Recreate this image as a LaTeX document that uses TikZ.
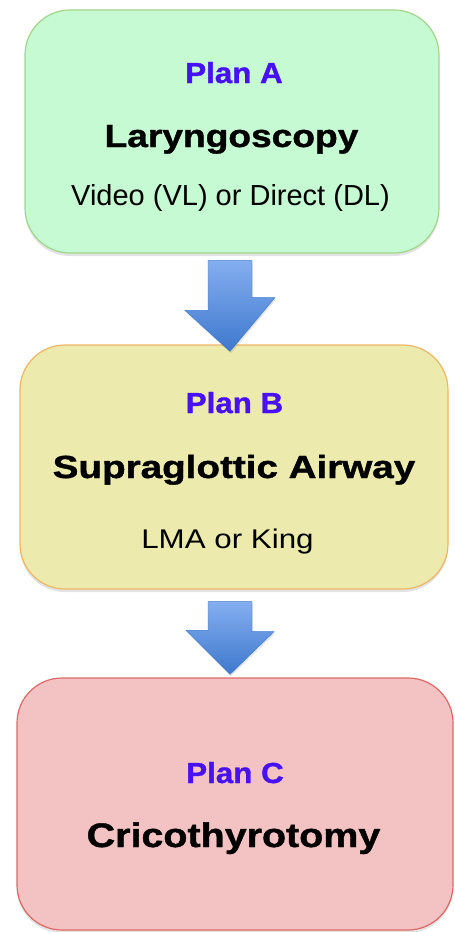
\documentclass[tikz,border=0pt]{standalone}
\usepackage{fontspec}
\setmainfont{Liberation Sans}
\newfontfamily\heavyfont{Liberation Sans Bold}[FakeBold=1.1]
\usetikzlibrary{calc,shadows}
\definecolor{planblue}{RGB}{72,16,245}
\definecolor{greenfill}{RGB}{198,250,210}
\definecolor{greenline}{RGB}{160,214,140}
\definecolor{yellowfill}{RGB}{236,234,172}
\definecolor{yellowline}{RGB}{240,182,104}
\definecolor{redfill}{RGB}{243,194,194}
\definecolor{redline}{RGB}{222,104,104}
\definecolor{arrowtop}{RGB}{132,174,240}
\definecolor{arrowbot}{RGB}{62,120,205}
\begin{document}
\begin{tikzpicture}[x=1pt,y=1pt]
\tikzset{
  planbox/.style={draw, line width=1.2pt, rounded corners=45pt, inner sep=0pt,
    drop shadow={opacity=0.22,shadow xshift=0pt,shadow yshift=-3pt}},
  plantag/.style={anchor=base, inner sep=0pt, text=planblue,
    font=\fontsize{29}{30}\heavyfont, xscale=1.08},
  plantitle/.style={anchor=base, inner sep=0pt,
    font=\fontsize{32}{34}\heavyfont, xscale=1.16},
  plannote/.style={anchor=base, inner sep=0pt, font=\fontsize{29}{32}\selectfont},
  blockarrow/.style={draw=arrowbot, line width=0.4pt, top color=arrowtop, bottom color=arrowbot,
    drop shadow={opacity=0.2,shadow xshift=1pt,shadow yshift=-2pt}}
}
\useasboundingbox (0,0) rectangle (455,-932);
% boxes
\node[planbox, draw=greenline, fill=greenfill, minimum width=414pt, minimum height=243pt] (planA) at (232,-131.5) {};
\node[planbox, draw=yellowline, fill=yellowfill, minimum width=428pt, minimum height=244pt] (planB) at (234,-467) {};
\node[planbox, draw=redline, fill=redfill, minimum width=436pt, minimum height=252pt] (planC) at (235,-804) {};
% plan A
\node[plantag] (tagA) at (234,-83) {Plan A};
\node[plantitle] (titleA) at (231.5,-147) {Laryngoscopy};
\node[plannote] (noteA) at (230.5,-205) {Video (VL) or Direct (DL)};
% plan B
\node[plantag] (tagB) at (234.5,-413) {Plan B};
\node[plantitle, xscale=1.04] (titleB) at (234,-478) {Supraglottic Airway};
\node[plannote, font=\fontsize{27}{30}\selectfont, xscale=1.16] (noteB) at (227.5,-548) {LMA or King};
% plan C
\node[plantag] (tagC) at (235,-783) {Plan C};
\node[plantitle, font=\fontsize{34}{36}\heavyfont, xscale=1.0] (titleC) at (233.5,-847) {Cricothyrotomy};
% arrows
\coordinate (arrA) at ($(planA.south)+(-24,-7)$);
\shade[blockarrow] (arrA) -- ++(44,0) -- ++(0,-37) -- ++(23,0) -- ($(planB.north)+(-4,-7)$)
  -- ++(-45,41) -- ++(23,0) -- cycle;
\coordinate (arrB) at ($(planB.south)+(-26,-12)$);
\shade[blockarrow] (arrB) -- ++(44,0) -- ++(0,-30) -- ++(22,0) -- ($(planC.north)+(-5,3)$)
  -- ++(-44,44) -- ++(22,0) -- cycle;
\end{tikzpicture}
\end{document}
